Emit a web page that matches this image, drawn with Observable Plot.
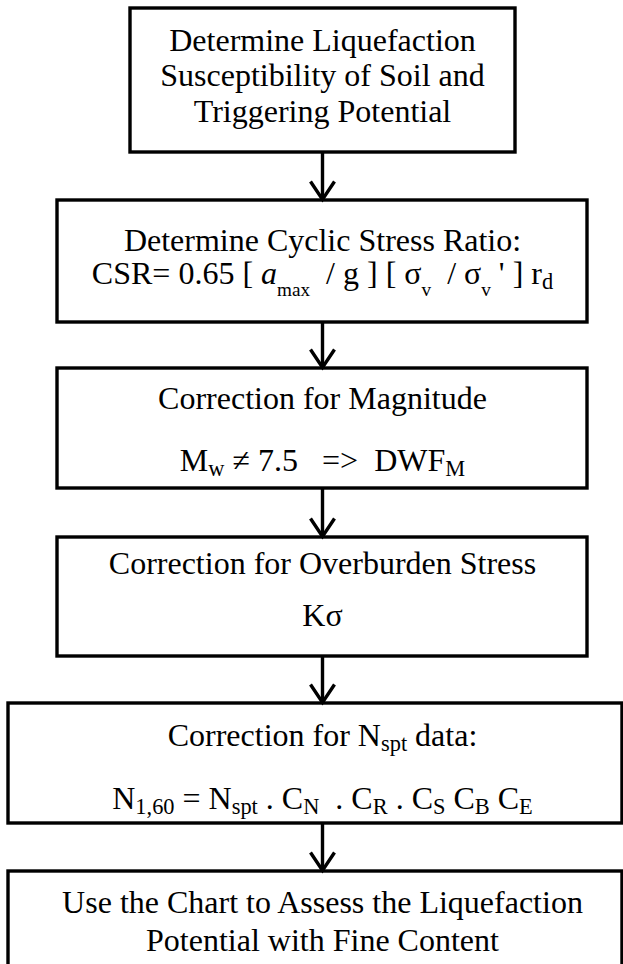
<!DOCTYPE html>
<html>
<head>
<meta charset="utf-8">
<script src="https://cdn.jsdelivr.net/npm/d3@7"></script>
<script src="https://cdn.jsdelivr.net/npm/@observablehq/plot@0.6"></script>
<style>
  html, body { margin: 0; padding: 0; background: #fff; }
  #chart svg { display: block; }
</style>
</head>
<body>
<div id="chart"></div>
<script>
// ---- Content of each step (markup: _{..} shallow subscript, _[..] deep subscript, *..* italic)
const stepText = [
  ["Determine Liquefaction", "Susceptibility of Soil and", "Triggering Potential"],
  ["Determine Cyclic Stress Ratio:", "CSR= 0.65 [ *a*_[max]  / g ] [ σ_[v]  / σ_[v] ' ] r_{d}"],
  ["Correction for Magnitude", "M_{w} ≠ 7.5   =>  DWF_{M}"],
  ["Correction for Overburden Stress", "Kσ"],
  ["Correction for N_{spt} data:", "N_{1,60} = N_{spt} . C_{N}  . C_{R} . C_{S} C_{B} C_{E}"],
  ["Use the Chart to Assess the Liquefaction", "Potential with Fine Content"]
];

// ---- Layout of the flowchart (pixel units of the 623×964 page)
const lineBaselines = [[50, 85.5, 121], [250, 283], [408, 470], [573, 625], [745, 808], [912, 950]];
const boxLeft   = [130, 57, 57, 57, 8, 8];
const boxRight  = [515, 587, 587, 587, 622, 622];
const boxTop    = [8, 200, 368, 537, 703, 871];
const boxBottom = [152, 322, 488, 656, 823, 1000];
const centerX   = 322;

const W = 623, H = 964;

const boxes = boxTop.map((t, i) => ({left: boxLeft[i], right: boxRight[i], top: t, bottom: boxBottom[i]}));
const arrows = boxTop.slice(1).map((t, i) => ({x: centerX, y1: boxBottom[i], y2: t - 1}));
const lines = stepText.flatMap((ls, i) => ls.map((t, j) => ({t, x: centerX, y: lineBaselines[i][j]})));

// open "V" arrowhead symbol
const chevron = {
  draw(context, size) {
    const r = Math.sqrt(size / Math.PI);
    const h = r * 1.5;
    context.moveTo(-r, -h);
    context.lineTo(0, 0);
    context.lineTo(r, -h);
  }
};

const plot = Plot.plot({
  width: W,
  height: H,
  margin: 0,
  x: {domain: [0, W], range: [0, W], axis: null},
  y: {domain: [0, H], range: [0, H], axis: null},
  style: {fontFamily: "'Liberation Serif', 'Times New Roman', serif", background: "#fff", color: "black"},
  marks: [
    Plot.rect(boxes, {x1: "left", x2: "right", y1: "top", y2: "bottom", fill: "white", stroke: "black", strokeWidth: 3.4}),
    Plot.ruleX(arrows, {x: "x", y1: "y1", y2: "y2", stroke: "black", strokeWidth: 3.4}),
    Plot.dot(arrows, {x: "x", y: "y2", symbol: chevron, r: 12, fill: "none", stroke: "black", strokeWidth: 3.4, strokeLinejoin: "miter"}),
    Plot.text(lines, {x: "x", y: "y", text: "t", fontSize: 32, lineAnchor: "bottom", textAnchor: "middle", fill: "black"})
  ]
});

document.getElementById("chart").appendChild(plot);

// Rich text: subscripts and italics rendered as tspans
const NS = "http://www.w3.org/2000/svg";
function richify(el, str) {
  el.textContent = "";
  el.style.whiteSpace = "pre";
  const parts = str.split(/(_\{[^}]*\}|_\[[^\]]*\]|\*[^*]*\*)/).filter(s => s !== "");
  let shift = 0;
  for (const p of parts) {
    const ts = document.createElementNS(NS, "tspan");
    let txt = p, dy = 0, size = null, italic = false;
    if (p.startsWith("_{")) { txt = p.slice(2, -1); dy = 5; size = "0.7em"; }
    else if (p.startsWith("_[")) { txt = p.slice(2, -1); dy = 12; size = "0.6em"; }
    else if (p.startsWith("*")) { txt = p.slice(1, -1); italic = true; }
    const d = dy - shift;
    shift = dy;
    if (d) ts.setAttribute("dy", d);
    if (size) ts.setAttribute("font-size", size);
    if (italic) ts.setAttribute("font-style", "italic");
    ts.textContent = txt;
    el.appendChild(ts);
  }
}
const textEls = plot.querySelectorAll("g[aria-label='text'] text");
textEls.forEach((el, i) => richify(el, lines[i].t));
</script>
</body>
</html>
